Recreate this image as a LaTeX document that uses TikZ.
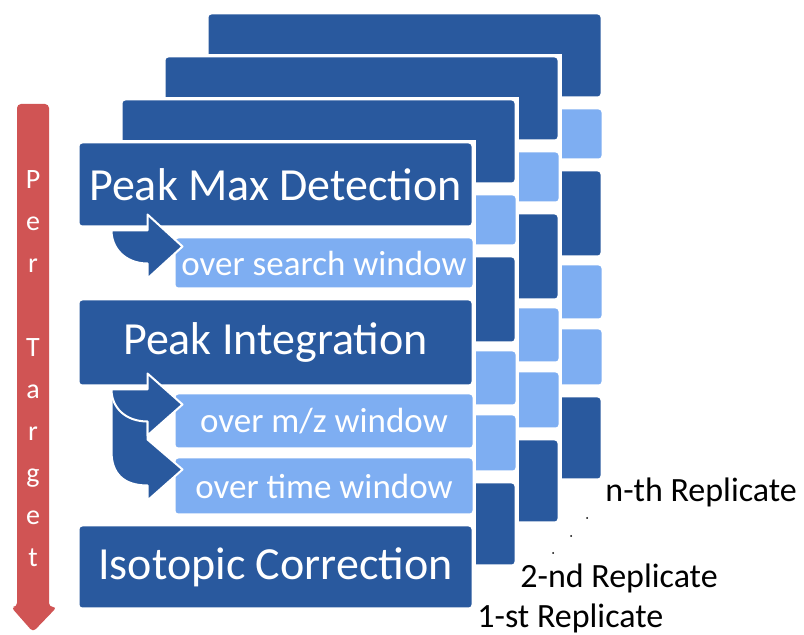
\documentclass[tikz,border=0pt]{standalone}
\usepackage{fontspec}
\setmainfont{Carlito}
\usepackage{tikz}

\definecolor{repdark}{RGB}{41,89,158}
\definecolor{replight}{RGB}{126,174,242}
\definecolor{pertarget}{RGB}{208,84,84}

\tikzset{
  stage/.style={draw=white, line width=1.5pt, fill=repdark, rounded corners=2pt,
    text=white, inner sep=0pt, minimum width=197.5pt,
    font=\fontsize{23}{27}\selectfont},
  substage/.style={draw=white, line width=1.5pt, fill=replight, rounded corners=2pt,
    text=white, inner sep=0pt, minimum width=150pt,
    font=\fontsize{17.5}{21}\selectfont},
  bentarrow/.style={fill=repdark, draw=white, line width=1pt, line join=round},
  replabel/.style={anchor=base west, inner sep=0pt, font=\fontsize{17}{20}\selectfont},
  letter/.style={anchor=base, inner sep=0pt, text=white, font=\fontsize{14}{16}\selectfont},
}

\begin{document}
\begin{tikzpicture}[x=0.5pt, y=-0.5pt]
    \useasboundingbox (0,0) rectangle (804,635);

    % Replicates al fons
    \foreach \k in {3,2,1} {
        \fill[white] (76+43*\k, 140-43*\k) rectangle (476+43*\k, 611-43*\k);
        \foreach \xa/\ya/\xb/\yb/\col in {78/142/473/227/repdark, 174/237/474/289/replight,
                78/299/473/386/repdark, 174/393/474/449/replight,
                174/457/474/515/replight, 78/525/473/609/repdark} {
            \draw[draw=white, line width=1.5pt, fill=\col, rounded corners=2pt]
                (\xa+43*\k, \ya-43*\k) rectangle (\xb+43*\k, \yb-43*\k);
        }
    }

    % Primer replicate
    \fill[white] (76,140) rectangle (476,611);
    \node[stage, minimum height=42.5pt] (detect) at (275.5,184.5) {Peak Max Detection};
    \node[substage, minimum height=26pt] (search) at (324,263) {over search window};
    \node[stage, minimum height=43.5pt] (integ) at (275.5,342.5) {Peak Integration};
    \node[substage, minimum height=28pt] (mz) at (324,421) {over m/z window};
    \node[substage, minimum height=29pt] (time) at (324,486) {over time window};
    \node[stage, minimum height=42pt] (iso) at (275.5,567) {Isotopic Correction};

    % Fletxes corbes
    \coordinate (a1) at ([shift={(35,2)}]detect.south west);
    \draw[bentarrow] (a1) -- ++(36,0) -- ++(0,-16) -- ++(35,32) -- ++(-35,32) -- ++(0,-15)
        .. controls +(-22,0) and +(0,18) .. (a1) -- cycle;
    \coordinate (a2) at ([shift={(35,2)}]integ.south west);
    \draw[bentarrow] (a2) -- ++(36,0) -- ++(0,50) -- ++(35,30) -- ++(-35,31) -- ++(0,-15)
        .. controls +(-24,0) and +(0,22) .. ([shift={(0,62)}]a2) -- cycle;
    \draw[bentarrow] (a2) -- ++(36,0) -- ++(0,-16) -- ++(35,31) -- ++(-35,31) -- ++(0,-14)
        .. controls +(-22,0) and +(0,18) .. (a2) -- cycle;

    % Fletxa vermella
    \fill[pertarget, rounded corners=2pt] (17,607) -- (17,104) -- (49,104) -- (49,607)
        -- (57,607) -- (33,632) -- (11,607) -- cycle;
    \foreach \c [count=\i] in {P,e,r,{},T,a,r,g,e,t}
        \node[letter] (tl\i) at (33,189+42*\i-42) {\c};

    % Etiquetes
    \node[replabel] (nth) at (605,502) {n-th Replicate};
    \node[replabel] (second) at (520,588) {2-nd Replicate};
    \node[replabel] (first) at (477,628) {1-st Replicate};
    \fill (587,518) circle (1) (571,536) circle (1) (553,553) circle (1);
\end{tikzpicture}
\end{document}
